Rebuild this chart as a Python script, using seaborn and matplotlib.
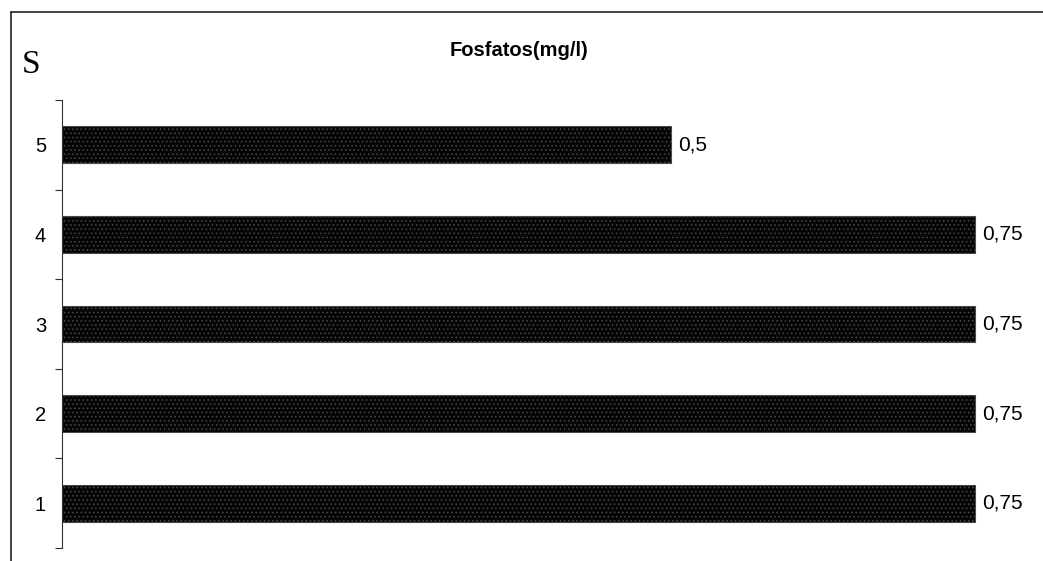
import matplotlib
matplotlib.use("Agg")
import matplotlib.pyplot as plt
from matplotlib.lines import Line2D
import seaborn as sns
import pandas as pd

# Phosphate concentration per station
stations = ["5", "4", "3", "2", "1"]
fosfatos = [0.5, 0.75, 0.75, 0.75, 0.75]
value_labels = ["0,5", "0,75", "0,75", "0,75", "0,75"]

sns.set_theme(style="white")
plt.rcParams["font.family"] = ["Liberation Sans", "DejaVu Sans"]
plt.rcParams["hatch.linewidth"] = 0.6
plt.rcParams["text.color"] = "black"
plt.rcParams["ytick.color"] = "black"
plt.rcParams["ytick.labelcolor"] = "black"

df = pd.DataFrame({"estacao": stations, "fosfatos": fosfatos})

W, H = 1043, 561
fig = plt.figure(figsize=(W / 100, H / 100), dpi=100)
ax = fig.add_axes([62 / W, (H - 548) / H, (W - 62) / W, (548 - 100) / H])

sns.barplot(data=df, y="estacao", x="fosfatos", order=stations, orient="h",
            color="#050505", width=0.41, ax=ax, saturation=1)
for p in ax.patches:
    p.set_facecolor("#050505")
    p.set_edgecolor("#4a4a4a")
    p.set_linewidth(0.8)
    p.set_hatch("....")

# value labels beside each bar
for i, (v, lab) in enumerate(zip(fosfatos, value_labels)):
    ax.text(v + 0.0058, i, lab, va="center", ha="left", fontsize=15, color="black")

ax.set_xlim(0, 0.75 / 913 * (W - 62))
ax.set_ylim(len(stations) - 0.5, -0.5)
ax.set_xlabel("")
ax.set_ylabel("")
ax.set_xticks([])
ax.set_yticks(range(len(stations)))
ax.set_yticklabels(stations, fontsize=14.5, color="black")
ax.set_yticks([i - 0.5 for i in range(len(stations) + 1)], minor=True)
ax.tick_params(axis="y", which="major", length=0, pad=11.5)
ax.tick_params(axis="y", which="minor", length=5, width=0.8, color="#333333",
               direction="out", left=True)
for s in ["top", "right", "bottom"]:
    ax.spines[s].set_visible(False)
ax.spines["left"].set_color("#333333")
ax.spines["left"].set_linewidth(0.8)

fig.text(519 / W, 1 - 56 / H, "Fosfatos(mg/l)", ha="center", va="baseline",
         fontsize=14.5, fontweight="bold", color="black")
fig.text(31 / W, 1 - 73 / H, "S", ha="center", va="baseline", fontsize=24,
         color="black", family=["Liberation Serif", "DejaVu Serif"])

# outer chart frame
fig.add_artist(Line2D([11 / W, 1], [1 - 12 / H, 1 - 12 / H], transform=fig.transFigure,
                      color="#222222", linewidth=1.2))
fig.add_artist(Line2D([11 / W, 11 / W], [0, 1 - 12 / H], transform=fig.transFigure,
                      color="#222222", linewidth=1.2))

fig.savefig("out.png", dpi=100)
